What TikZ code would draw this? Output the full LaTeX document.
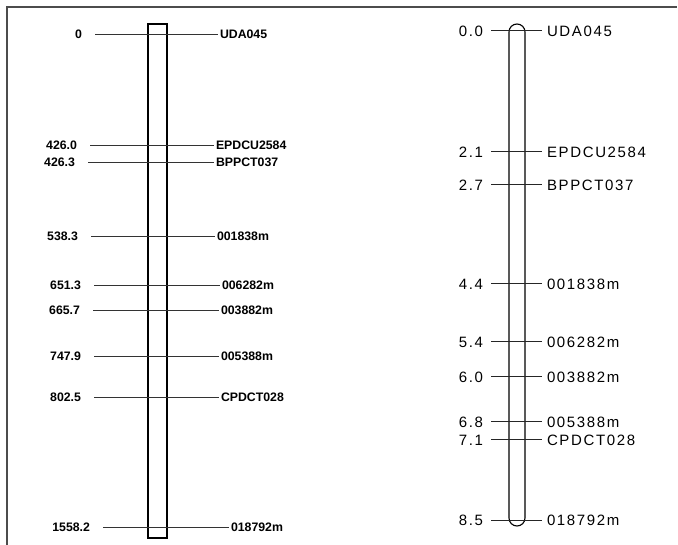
\documentclass[tikz,border=0pt]{standalone}
\usepackage{fontspec}
\setmainfont{Liberation Sans}
\newfontfamily\mapfont[LetterSpace=11]{Liberation Sans}
\usetikzlibrary{positioning}
\tikzset{
  frameline/.style={draw=black!70, line width=1.6pt},
  physchr/.style={
    rectangle, draw, line width=1.6pt, inner sep=0pt,
    minimum width=19pt, minimum height=514pt
  },
  genchr/.style={
    rectangle, draw, line width=1.1pt, inner sep=0pt, rounded corners=8pt,
    minimum width=16pt, minimum height=502pt
  },
  physline/.style={draw=black!80, line width=0.8pt},
  genline/.style={draw=black!85, line width=1pt},
  physpos/.style={
    anchor=east, inner sep=0pt, outer xsep=13pt,
    font=\fontsize{12.3}{13}\selectfont\bfseries
  },
  physmark/.style={
    anchor=west, inner sep=0pt, outer xsep=2pt,
    font=\fontsize{12.3}{13}\selectfont\bfseries
  },
  genpos/.style={
    anchor=east, inner sep=0pt, outer xsep=8pt,
    font=\fontsize{15}{17}\mapfont
  },
  genmark/.style={
    anchor=west, inner sep=0pt, outer xsep=5pt,
    font=\fontsize{15}{17}\mapfont
  }
}

\begin{document}
\begin{tikzpicture}[x=1pt, y=-1pt]
\useasboundingbox (0,0) rectangle (678,545);

% ── Frame ───────────────────────────────────────────────────────────────────
\coordinate (fbl) at (7,545);
\coordinate (ftl) at (7,7);
\coordinate (ftr) at (677,7);
\draw[frameline] (fbl) -- (ftl) -- (ftr);

% ── Physical map (left) ─────────────────────────────────────────────────────
\node[physchr] (pchr) at (157.5,281) {};

\node[physpos] (pp1) at (95,34) {0};
\node[physmark] (pm1) at (218,34) {UDA045};
\node[physpos] (pp2) at (90,145) {426.0};
\node[physmark] (pm2) at (214,145) {EPDCU2584};
\node[physpos] (pp3) at (88,162) {426.3};
\node[physmark] (pm3) at (214,162) {BPPCT037};
\node[physpos] (pp4) at (91,236) {538.3};
\node[physmark] (pm4) at (215,236) {001838m};
\node[physpos] (pp5) at (94,285) {651.3};
\node[physmark] (pm5) at (220,285) {006282m};
\node[physpos] (pp6) at (93,310) {665.7};
\node[physmark] (pm6) at (219,310) {003882m};
\node[physpos] (pp7) at (94,356) {747.9};
\node[physmark] (pm7) at (219,356) {005388m};
\node[physpos] (pp8) at (94,397) {802.5};
\node[physmark] (pm8) at (219,397) {CPDCT028};
\node[physpos] (pp9) at (103,527) {1558.2};
\node[physmark] (pm9) at (229,527) {018792m};

\draw[physline] (pp1.east) -- (pm1.west);
\draw[physline] (pp2.east) -- (pm2.west);
\draw[physline] (pp3.east) -- (pm3.west);
\draw[physline] (pp4.east) -- (pm4.west);
\draw[physline] (pp5.east) -- (pm5.west);
\draw[physline] (pp6.east) -- (pm6.west);
\draw[physline] (pp7.east) -- (pm7.west);
\draw[physline] (pp8.east) -- (pm8.west);
\draw[physline] (pp9.east) -- (pm9.west);

% ── Genetic map (right) ─────────────────────────────────────────────────────
\node[genchr] (gchr) at (517,275) {};

\node[genpos] (gp1) at (491,31) {0.0};
\node[genmark] (gm1) at (542,31) {UDA045};
\node[genpos] (gp2) at (491,152) {2.1};
\node[genmark] (gm2) at (542,152) {EPDCU2584};
\node[genpos] (gp3) at (491,185) {2.7};
\node[genmark] (gm3) at (542,185) {BPPCT037};
\node[genpos] (gp4) at (491,284) {4.4};
\node[genmark] (gm4) at (542,284) {001838m};
\node[genpos] (gp5) at (491,342) {5.4};
\node[genmark] (gm5) at (542,342) {006282m};
\node[genpos] (gp6) at (491,377) {6.0};
\node[genmark] (gm6) at (542,377) {003882m};
\node[genpos] (gp7) at (491,422) {6.8};
\node[genmark] (gm7) at (542,422) {005388m};
\node[genpos] (gp8) at (491,440) {7.1};
\node[genmark] (gm8) at (542,440) {CPDCT028};
\node[genpos] (gp9) at (491,520) {8.5};
\node[genmark] (gm9) at (542,520) {018792m};

\draw[genline] (gp1.east) -- (gm1.west);
\draw[genline] (gp2.east) -- (gm2.west);
\draw[genline] (gp3.east) -- (gm3.west);
\draw[genline] (gp4.east) -- (gm4.west);
\draw[genline] (gp5.east) -- (gm5.west);
\draw[genline] (gp6.east) -- (gm6.west);
\draw[genline] (gp7.east) -- (gm7.west);
\draw[genline] (gp8.east) -- (gm8.west);
\draw[genline] (gp9.east) -- (gm9.west);

\end{tikzpicture}
\end{document}
